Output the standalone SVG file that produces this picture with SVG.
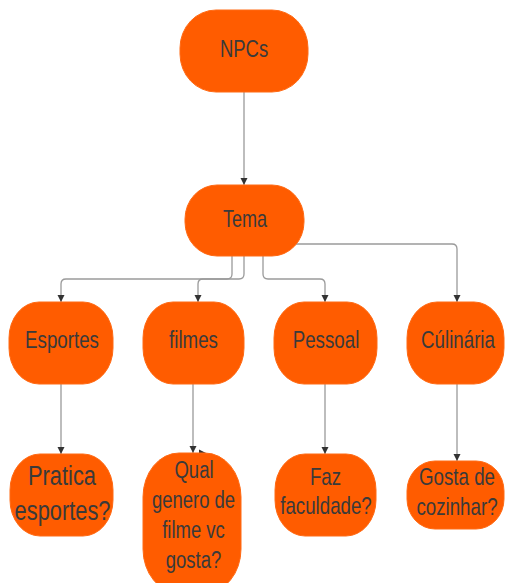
<svg xmlns="http://www.w3.org/2000/svg" width="505" height="583" viewBox="0 0 505 583">
  <defs>
    <style>
      .node { fill: #FF5C00; stroke: #FF6A14; stroke-width: 1; }
      .lbl { font-family: "Liberation Sans", Arial, sans-serif; fill: #3a3a3a; text-anchor: middle; }
      .s24 { font-size: 24px; }
      .s28 { font-size: 28px; }
      .conn { fill: none; stroke: #9a9a9a; stroke-width: 1.3; }
    </style>
    <marker id="arr" markerUnits="userSpaceOnUse" markerWidth="8" markerHeight="10" refX="7" refY="5" orient="auto">
      <path d="M0,1.5 L7,5 L0,8.5 Z" fill="#333"/>
    </marker>
  </defs>
  <rect width="505" height="583" fill="#ffffff"/>

  <g id="connectors">
    <path class="conn" d="M244,92 V185" marker-end="url(#arr)"/>
    <path class="conn" d="M232,256 V274 Q232,279 227,279 H66 Q61,279 61,284 V302" marker-end="url(#arr)"/>
    <path class="conn" d="M244,256 V274 Q244,279 239,279 H203 Q198,279 198,284 V302" marker-end="url(#arr)"/>
    <path class="conn" d="M263,256 V274 Q263,279 268,279 H320 Q325,279 325,284 V302" marker-end="url(#arr)"/>
    <path class="conn" d="M296,244 H452 Q457,244 457,249 V302" marker-end="url(#arr)"/>
    <path class="conn" d="M61,384 V454" marker-end="url(#arr)"/>
    <path class="conn" d="M193,384 V453" marker-end="url(#arr)"/>
    <path d="M199,449.5 L206,453 L199,456.5 Z" fill="#333"/>
    <path class="conn" d="M325,384 V454" marker-end="url(#arr)"/>
    <path class="conn" d="M457,384 V461" marker-end="url(#arr)"/>
  </g>

  <g id="npcs">
    <rect class="node" x="180" y="10" width="128" height="82" rx="36" ry="38"/>
    <text class="lbl s24" transform="translate(244,57) scale(0.77,1)">NPCs</text>
  </g>
  <g id="tema">
    <rect class="node" x="185" y="185" width="119" height="71" rx="32" ry="34"/>
    <text class="lbl s24" transform="translate(245,227) scale(0.75,1)">Tema</text>
  </g>

  <g id="esportes">
    <rect class="node" x="9" y="302" width="104" height="82" rx="30" ry="36"/>
    <text class="lbl s24" transform="translate(62,348) scale(0.78,1)">Esportes</text>
  </g>
  <g id="filmes">
    <rect class="node" x="143" y="302" width="101" height="82" rx="30" ry="36"/>
    <text class="lbl s24" transform="translate(193.5,348) scale(0.78,1)">filmes</text>
  </g>
  <g id="pessoal">
    <rect class="node" x="274" y="302" width="103" height="82" rx="30" ry="36"/>
    <text class="lbl s24" transform="translate(326,348) scale(0.78,1)">Pessoal</text>
  </g>
  <g id="culinaria">
    <rect class="node" x="407" y="302" width="97" height="82" rx="30" ry="36"/>
    <text class="lbl s24" transform="translate(458,348) scale(0.78,1)">Cúlinária</text>
  </g>

  <g id="pratica">
    <rect class="node" x="10" y="454" width="103" height="82" rx="30" ry="36"/>
    <text class="lbl s28" transform="translate(62,485) scale(0.78,1)">Pratica</text>
    <text class="lbl s28" transform="translate(62.5,520) scale(0.78,1)">esportes?</text>
  </g>
  <g id="qual">
    <rect class="node" x="143" y="453" width="98" height="140" rx="36" ry="44"/>
    <text class="lbl s24" transform="translate(194,478) scale(0.77,1)">Qual</text>
    <text class="lbl s24" transform="translate(193.5,508) scale(0.77,1)">genero de</text>
    <text class="lbl s24" transform="translate(193.5,538) scale(0.77,1)">filme vc</text>
    <text class="lbl s24" transform="translate(193.5,568) scale(0.77,1)">gosta?</text>
  </g>
  <g id="faz">
    <rect class="node" x="275" y="454" width="101" height="82" rx="30" ry="36"/>
    <text class="lbl s24" transform="translate(325.5,485) scale(0.78,1)">Faz</text>
    <text class="lbl s24" transform="translate(326,514) scale(0.78,1)">faculdade?</text>
  </g>
  <g id="gosta">
    <rect class="node" x="407" y="461" width="97" height="68" rx="28" ry="30"/>
    <text class="lbl s24" transform="translate(457,485) scale(0.78,1)">Gosta de</text>
    <text class="lbl s24" transform="translate(457,515) scale(0.78,1)">cozinhar?</text>
  </g>
</svg>
